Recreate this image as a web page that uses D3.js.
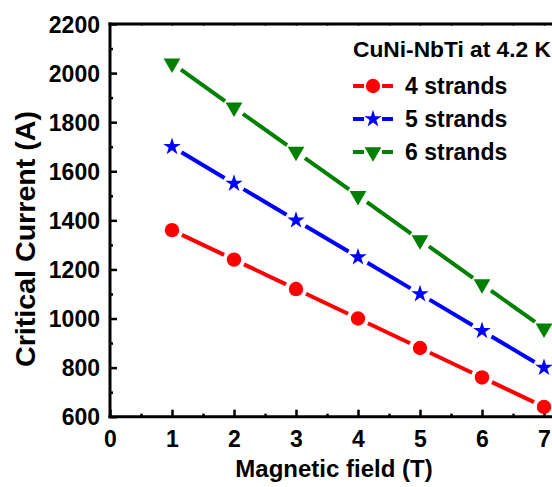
<!DOCTYPE html>
<html>
<head>
<meta charset="utf-8">
<script src="https://cdn.jsdelivr.net/npm/d3@7"></script>
<style>
  html, body { margin: 0; padding: 0; background: #fff; }
  svg { display: block; }
  text { font-family: "Liberation Sans", Arial, sans-serif; font-weight: bold; fill: #000; }
</style>
</head>
<body>
<svg id="chart" width="552" height="487"></svg>
<script>
// Field values (T)
const fields = [1, 2, 3, 4, 5, 6, 7];
// Critical current (A) per cable configuration
const strands4 = [1360, 1240, 1120, 1000, 880, 760, 640];
const strands5 = [1700, 1550, 1400, 1250, 1100, 950, 800];
const strands6 = [2040, 1860, 1680, 1500, 1320, 1140, 960];
const seriesNames = ["4 strands", "5 strands", "6 strands"];
const seriesColors = ["#ff0000", "#0000ff", "#008000"];
const seriesSymbols = ["circle", "star", "triangleDown"];
const xTicks = [0, 1, 2, 3, 4, 5, 6, 7];
const yTicks = [600, 800, 1000, 1200, 1400, 1600, 1800, 2000, 2200];
const legendTitle = "CuNi-NbTi at 4.2 K";

const svg = d3.select("#chart");
const plotLeft = 110, plotTop = 24, plotBottom = 416.7;

const x = d3.scaleLinear().domain([0, 7.35]).range([plotLeft, plotLeft + 7.35 * 62]);
const y = d3.scaleLinear().domain([600, 2200]).range([plotBottom, plotTop]);

// downward triangle marker
const triDown = {
  draw(ctx) {
    const w = 8.4, hh = 14.5;
    ctx.moveTo(-w, -hh / 3);
    ctx.lineTo(w, -hh / 3);
    ctx.lineTo(0, hh * 2 / 3);
    ctx.closePath();
  }
};
function symbolPath(kind) {
  if (kind === "circle") return d3.symbol(d3.symbolCircle, Math.PI * 7.2 * 7.2)();
  if (kind === "star") return d3.symbol(d3.symbolStar, 95)();
  return d3.symbol(triDown, 100)();
}

// axes: major & minor ticks pointing inward
const gx = svg.append("g").attr("transform", `translate(0,${plotBottom})`);
gx.call(d3.axisBottom(x).tickValues(d3.range(0.5, 7.5, 1)).tickSize(-3).tickFormat(""));
gx.select(".domain").remove();
const gx2 = svg.append("g").attr("transform", `translate(0,${plotBottom})`);
gx2.call(d3.axisBottom(x).tickValues(xTicks).tickSize(-7).tickPadding(14).tickFormat(d3.format("d")));
gx2.select(".domain").remove();
gx.selectAll("line").attr("stroke-width", 2.5);
gx2.selectAll("line").attr("stroke-width", 2.5);
gx2.selectAll("text").attr("font-size", 23).attr("dy", "0.71em");

const gy = svg.append("g").attr("transform", `translate(${plotLeft},0)`);
gy.call(d3.axisLeft(y).tickValues(d3.range(700, 2200, 200)).tickSize(-3).tickFormat(""));
gy.select(".domain").remove();
const gy2 = svg.append("g").attr("transform", `translate(${plotLeft},0)`);
gy2.call(d3.axisLeft(y).tickValues(yTicks).tickSize(-7).tickPadding(10).tickFormat(d3.format("d")));
gy2.select(".domain").remove();
gy.selectAll("line").attr("stroke-width", 2.5);
gy2.selectAll("line").attr("stroke-width", 2.5);
gy2.selectAll("text").attr("font-size", 23).attr("dy", "0.36em");

// top axis ticks (short)
const gt = svg.append("g").attr("transform", `translate(0,${plotTop})`);
gt.call(d3.axisTop(x).tickValues(d3.range(0.5, 7.5, 0.5)).tickSize(-2).tickFormat(""));
gt.select(".domain").remove();
gt.selectAll("line").attr("stroke-width", 1.5).attr("stroke", "#444");

// frame lines
svg.append("line").attr("x1", plotLeft).attr("x2", 552).attr("y1", plotBottom).attr("y2", plotBottom)
  .attr("stroke", "#000").attr("stroke-width", 3).attr("stroke-linecap", "square");
svg.append("line").attr("x1", plotLeft).attr("x2", 552).attr("y1", plotTop).attr("y2", plotTop)
  .attr("stroke", "#000").attr("stroke-width", 3).attr("stroke-linecap", "square");
svg.append("line").attr("x1", plotLeft).attr("x2", plotLeft).attr("y1", plotTop).attr("y2", plotBottom)
  .attr("stroke", "#000").attr("stroke-width", 3).attr("stroke-linecap", "square");

// axis titles
svg.append("text").attr("x", 334).attr("y", 477).attr("text-anchor", "middle")
  .attr("font-size", 24).text("Magnetic field (T)");
svg.append("text").attr("transform", "translate(35,239) rotate(-90)").attr("text-anchor", "middle")
  .attr("font-size", 28).attr("textLength", 256).attr("lengthAdjust", "spacingAndGlyphs")
  .text("Critical Current (A)");

// series: line segments broken around each marker
const allSeries = [strands4, strands5, strands6];
const gap = 11;
allSeries.forEach((vals, si) => {
  const g = svg.append("g");
  const pts = fields.map((f, i) => [x(f), y(vals[i])]);
  for (let i = 0; i < pts.length - 1; i++) {
    const [x0, y0] = pts[i], [x1, y1] = pts[i + 1];
    const dx = x1 - x0, dy = y1 - y0, len = Math.hypot(dx, dy);
    const ux = dx / len, uy = dy / len;
    g.append("line")
      .attr("x1", x0 + ux * gap).attr("y1", y0 + uy * gap)
      .attr("x2", x1 - ux * gap).attr("y2", y1 - uy * gap)
      .attr("stroke", seriesColors[si]).attr("stroke-width", 4);
  }
  g.selectAll("path").data(pts).join("path")
    .attr("transform", d => `translate(${d[0]},${d[1]})`)
    .attr("d", symbolPath(seriesSymbols[si]))
    .attr("fill", seriesColors[si]);
});

// legend
svg.append("text").attr("x", 353).attr("y", 57).attr("font-size", 22)
  .attr("textLength", 198).attr("lengthAdjust", "spacingAndGlyphs").text(legendTitle);
const legendRows = [86, 119, 152];
seriesNames.forEach((name, si) => {
  const ly = legendRows[si];
  const g = svg.append("g");
  g.append("line").attr("x1", 353).attr("x2", 364).attr("y1", ly).attr("y2", ly)
    .attr("stroke", seriesColors[si]).attr("stroke-width", 4);
  g.append("line").attr("x1", 382).attr("x2", 393).attr("y1", ly).attr("y2", ly)
    .attr("stroke", seriesColors[si]).attr("stroke-width", 4);
  g.append("path").attr("transform", `translate(373,${ly})`)
    .attr("d", symbolPath(seriesSymbols[si])).attr("fill", seriesColors[si]);
  g.append("text").attr("x", 405).attr("y", ly + 8).attr("font-size", 23).text(name);
});
</script>
</body>
</html>
